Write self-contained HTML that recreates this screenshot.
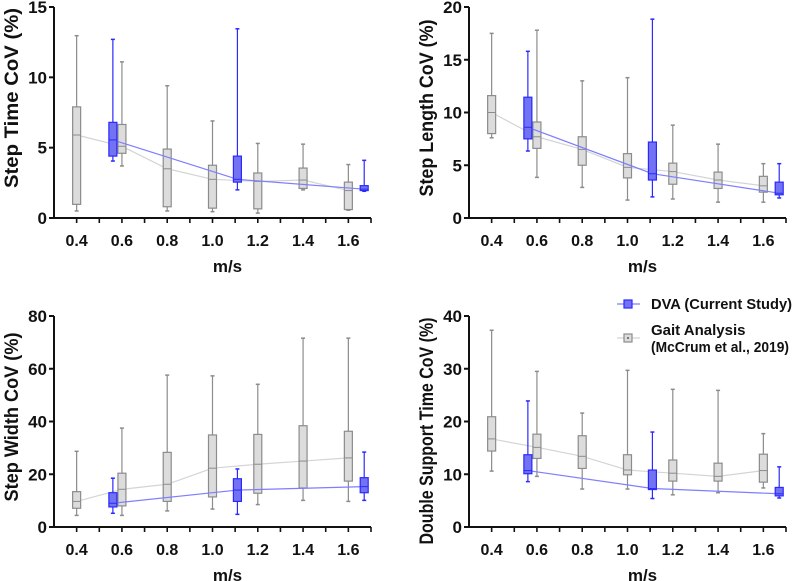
<!DOCTYPE html>
<html><head><meta charset="utf-8"><style>
body{margin:0;background:#fff;}
svg{display:block;font-family:"Liberation Sans",Arial,sans-serif;font-weight:bold;}
</style></head><body>
<svg id="chart" width="799" height="581" viewBox="0 0 799 581"></svg>
<script>
const xCats=[0.4,0.6,0.8,1.0,1.2,1.4,1.6];
const blueX=[0.56,1.11,1.67];
const xTickLabels=["0.4","0.6","0.8","1.0","1.2","1.4","1.6"];
// panel 1 step time
const stGrey=[[0.5,0.97,5.9,7.9,12.96],[3.7,4.6,5.1,6.65,11.1],[0.5,0.8,3.5,4.9,9.4],[0.45,0.7,2.75,3.75,6.9],[0.35,0.65,2.6,3.2,5.3],[2.0,2.1,2.7,3.55,5.25],[0.55,0.6,1.95,2.55,3.8]];
const stBlue=[[4.05,4.4,5.55,6.8,12.7],[2.0,2.55,2.75,4.4,13.45],[1.9,1.95,2.05,2.3,4.1]];
// panel 2 step length
const slGrey=[[7.6,8.0,10.0,11.6,17.5],[3.85,6.6,7.7,9.1,17.8],[2.9,5.0,6.5,7.7,13.0],[1.7,3.8,4.8,6.1,13.3],[1.8,3.2,4.4,5.2,8.8],[1.5,2.8,3.6,4.35,7.0],[1.5,2.45,3.05,3.95,5.15]];
const slBlue=[[6.35,7.5,8.6,11.45,15.8],[2.0,3.6,4.2,7.2,18.85],[1.9,2.2,2.35,3.4,5.15]];
// panel 3 step width
const swGrey=[[4.4,7.1,9.7,13.4,28.7],[4.4,8.0,14.3,20.4,37.5],[6.1,9.7,16.2,28.3,57.6],[6.8,11.4,22.3,34.9,57.3],[8.5,12.8,23.8,35.1,54.1],[10.1,14.8,25.0,38.4,71.6],[9.7,17.4,26.2,36.3,71.6]];
const swBlue=[[5.2,7.6,9.0,13.0,18.5],[4.8,9.7,14.0,18.3,22.0],[10.1,13.0,15.3,18.7,28.4]];
// panel 4 double support
const dsGrey=[[10.6,14.4,16.7,20.9,37.3],[9.6,13.0,15.1,17.6,29.5],[7.2,11.1,13.4,17.3,21.6],[7.2,9.9,10.8,13.7,29.7],[6.1,8.7,10.2,12.7,26.1],[6.5,8.7,9.6,12.1,25.9],[7.4,8.5,10.7,13.8,17.7]];
const dsBlue=[[8.6,10.1,10.7,13.7,23.9],[5.4,7.1,7.3,10.8,18.0],[5.5,5.9,6.3,7.5,11.4]];
const yTicks1=[0,5,10,15], yTicks2=[0,5,10,15,20], yTicks3=[0,20,40,60,80], yTicks4=[0,10,20,30,40];

const svg=document.getElementById('chart');
const NS='http://www.w3.org/2000/svg';
function mk(tag,attrs,parent){const e=document.createElementNS(NS,tag);for(const k in attrs)e.setAttribute(k,attrs[k]);(parent||svg).appendChild(e);return e;}

function panel(cfg){
  const g=mk('g',{});
  
  
  const ax=cfg.ax, ar=cfg.ax+317, y0=cfg.y0, yt=cfg.y0-211;
  const X=v=>ax+(v-0.3)/1.4*(ar-ax);
  const Y=v=>y0-v/cfg.ymax*(y0-yt);
  function series(data,xs,stroke,fill,edge,label){
    const pts=data.map((d,i)=>X(xs[i])+','+Y(d[2])).join(' ');
    const pl=mk('polyline',{points:pts,fill:'none',stroke:stroke,'stroke-width':1.2},g);
    
    
    data.forEach((d,i)=>{
      const x=X(xs[i]);
      const bg=mk('g',{},g);
      
      
      mk('line',{x1:x,x2:x,y1:Y(d[4]),y2:Y(d[0]),stroke:edge,'stroke-width':1.2},bg);
      mk('line',{x1:x-2,x2:x+2,y1:Y(d[4]),y2:Y(d[4]),stroke:edge,'stroke-width':1.5},bg);
      mk('line',{x1:x-2,x2:x+2,y1:Y(d[0]),y2:Y(d[0]),stroke:edge,'stroke-width':1.5},bg);
      mk('rect',{x:x-4,y:Y(d[3]),width:8,height:Math.max(1,Y(d[1])-Y(d[3])),fill:fill,stroke:edge,'stroke-width':1.2},bg);
      mk('line',{x1:x-4,x2:x+4,y1:Y(d[2]),y2:Y(d[2]),stroke:edge,'stroke-width':1},bg);
    });
  }
  series(cfg.grey,xCats,'#d4d4d4','#dcdcdc','#8c8c8c','gait-analysis');
  series(cfg.blue,blueX,'#7e7eff','#7272f2','#2a2aff','dva');
  const ya=mk('line',{x1:ax,x2:ax,y1:yt,y2:y0+1,stroke:'#111','stroke-width':2},g);
  
  const xa=mk('line',{x1:ax-1,x2:ar,y1:y0,y2:y0,stroke:'#111','stroke-width':2},g);
  
  cfg.yt.forEach(v=>{
    mk('line',{x1:ax-5,x2:ax,y1:Y(v),y2:Y(v),stroke:'#111','stroke-width':2},g);
    const t=mk('text',{x:ax-7,y:Y(v)+6,'text-anchor':'end','font-size':17,fill:'#111'},g);
    t.textContent=v;
    
  });
  for(let k=4;k<=17;k++){
    const x=X(k/10);
    mk('line',{x1:x,x2:x,y1:y0,y2:y0+5,stroke:'#111','stroke-width':1.6},g);
  }
  xCats.forEach((v,i)=>{
    const t=mk('text',{x:X(v),y:y0+28,'text-anchor':'middle','font-size':16,fill:'#111'},g);
    t.textContent=xTickLabels[i];
    
  });
  const xt=mk('text',{x:(ax+ar)/2+15,y:y0+54,'text-anchor':'middle','font-size':17,fill:'#111'},g);
  xt.textContent='m/s';
  
  const cy=cfg.cy;
  const ytl=mk('text',{x:cfg.tx,y:cy,'text-anchor':'middle','font-size':19,fill:'#111',textLength:cfg.tl,lengthAdjust:'spacingAndGlyphs',transform:`rotate(-90 ${cfg.tx} ${cy})`},g);
  ytl.textContent=cfg.title;
  
}
panel({name:'step-time-panel',ax:54,y0:218,ymax:15,yt:yTicks1,grey:stGrey,blue:stBlue,title:'Step Time CoV (%)',tx:18,cy:98,tl:180});
panel({name:'step-length-panel',ax:469,y0:218,ymax:20,yt:yTicks2,grey:slGrey,blue:slBlue,title:'Step Length CoV (%)',tx:433,cy:108,tl:177});
panel({name:'step-width-panel',ax:54,y0:527,ymax:80,yt:yTicks3,grey:swGrey,blue:swBlue,title:'Step Width CoV (%)',tx:18,cy:417,tl:169});
panel({name:'double-support-panel',ax:469,y0:527,ymax:40,yt:yTicks4,grey:dsGrey,blue:dsBlue,title:'Double Support Time CoV (%)',tx:433,cy:431,tl:227});

const lg=mk('g',{});


const l1=mk('g',{},lg);


mk('line',{x1:617,x2:640,y1:304,y2:304,stroke:'#7e7eff','stroke-width':1.2},l1);
mk('rect',{x:624,y:300,width:8,height:8,fill:'#7272f2',stroke:'#2a2aff','stroke-width':1.2},l1);
const t1=mk('text',{x:651,y:309,'font-size':15,fill:'#111',textLength:141,lengthAdjust:'spacingAndGlyphs'},l1);t1.textContent='DVA (Current Study)';
const l2=mk('g',{},lg);


mk('line',{x1:617,x2:640,y1:338,y2:338,stroke:'#d4d4d4','stroke-width':1.2},l2);
mk('rect',{x:624,y:334,width:8,height:8,fill:'#dcdcdc',stroke:'#8c8c8c','stroke-width':1.2},l2);
mk('rect',{x:627,y:337,width:2,height:2,fill:'#777'},l2);
const t2=mk('text',{x:651,y:335,'font-size':15,fill:'#111'},l2);t2.textContent='Gait Analysis';
const t3=mk('text',{x:651,y:352,'font-size':15,fill:'#111',textLength:138,lengthAdjust:'spacingAndGlyphs'},l2);t3.textContent='(McCrum et al., 2019)';
</script>
</body></html>
